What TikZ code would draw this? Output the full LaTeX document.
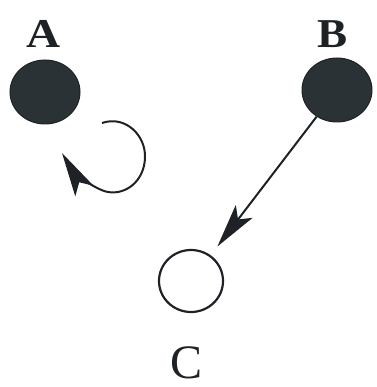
\documentclass[tikz,border=0pt]{standalone}
\usepackage{fontspec}
\setmainfont{Liberation Serif}
\usetikzlibrary{arrows.meta,shapes.geometric}
\definecolor{dotfill}{HTML}{2A3236}
\definecolor{inkc}{HTML}{1E2226}
\begin{document}
\begin{tikzpicture}[x=1pt,y=-1pt,
  filleddot/.style={ellipse,fill=dotfill,draw=inkc,line width=1pt,minimum width=70pt,minimum height=64pt,inner sep=0pt},
  opendot/.style={ellipse,draw=inkc,line width=2.2pt,minimum width=64pt,minimum height=62pt,inner sep=0pt},
  lbl/.style={anchor=base,inner sep=0pt,text=inkc},
  edge/.style={draw=inkc,line width=2pt,-{Stealth[length=44pt,width=21pt,inset=10pt]}}
]
\useasboundingbox (0,0) rectangle (376,387);
\node[filleddot] (A) at (45,92) {};
\node[filleddot] (B) at (337,90) {};
\node[opendot] (C) at (191,281) {};
\node[lbl,xscale=1.15] (la) at (44,48) {\fontsize{41}{43}\selectfont\bfseries A};
\node[lbl,xscale=1.1] (lb) at (333,48) {\fontsize{41}{43}\selectfont\bfseries B};
\node[lbl] (lc) at (187,378) {\fontsize{48}{50}\selectfont C};
\coordinate (s) at (102,123);
\coordinate (r) at (145,158);
\coordinate (b) at (108,192);
\coordinate (t) at (62,153);
\path[edge] (s) .. controls (125,115) and (146,135) .. (r)
  .. controls (144,182) and (125,195) .. (b)
  .. controls (95,190) and (72,170) .. (t);
\path[edge,shorten >=11pt] (B) -- (C);
\end{tikzpicture}
\end{document}
